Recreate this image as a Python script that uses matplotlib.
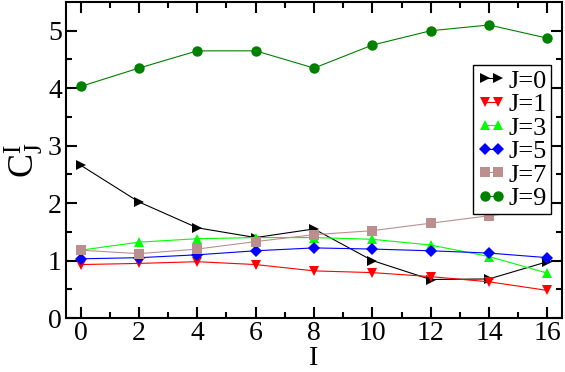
import matplotlib
matplotlib.use('Agg')
import matplotlib.pyplot as plt

plt.rcParams['font.family'] = ['Liberation Serif', 'DejaVu Serif']
plt.rcParams['mathtext.fontset'] = 'custom'
plt.rcParams['mathtext.rm'] = 'Liberation Serif'
plt.rcParams['mathtext.it'] = 'Liberation Serif'

I = [0, 2, 4, 6, 8, 10, 12, 14, 16]
c_j0 = [2.66, 2.02, 1.57, 1.40, 1.55, 1.00, 0.67, 0.68, 0.98]
c_j1 = [0.93, 0.95, 0.98, 0.93, 0.82, 0.79, 0.72, 0.63, 0.48]
c_j3 = [1.18, 1.32, 1.38, 1.40, 1.40, 1.37, 1.27, 1.07, 0.78]
c_j5 = [1.03, 1.05, 1.10, 1.17, 1.22, 1.20, 1.17, 1.13, 1.05]
c_j7 = [1.18, 1.12, 1.20, 1.33, 1.45, 1.52, 1.65, 1.78, 1.90]
c_j9 = [4.03, 4.35, 4.65, 4.65, 4.35, 4.75, 5.00, 5.10, 4.87]

series = [
    ('J=0', c_j0, 'black', '>'),
    ('J=1', c_j1, 'red', 'v'),
    ('J=3', c_j3, '#00ff00', '^'),
    ('J=5', c_j5, 'blue', 'D'),
    ('J=7', c_j7, '#bc8f8f', 's'),
    ('J=9', c_j9, 'green', 'o'),
]

fig = plt.figure(figsize=(5.65, 3.72), dpi=100)
ax = fig.add_axes([66/565, 1 - 318/372, (562-66)/565, (318-2)/372])

for label, vals, col, mk in series:
    ms = 6.5 if mk == 'D' else 7.5
    ax.plot(I, vals, color=col, marker=mk, markersize=ms, linewidth=0.8,
            markeredgewidth=0, label=label)

ax.set_xlim(-0.5, 16.5)
ax.set_ylim(0, 5.5)
ax.set_xticks(range(0, 17, 2))
ax.set_xticks(range(1, 17, 2), minor=True)
ax.set_yticks(range(0, 6))
ax.set_yticks([0.5, 1.5, 2.5, 3.5, 4.5], minor=True)
ax.tick_params(which='both', direction='in', top=True, right=True,
               labelsize=20, width=1.5)
ax.tick_params(which='major', length=8, pad=3)
ax.tick_params(axis='x', which='major', pad=2)
ax.tick_params(which='minor', length=4)
for sp in ax.spines.values():
    sp.set_linewidth(1.5)

ax.set_xlabel('I', fontsize=20, va='bottom')
ax.xaxis.set_label_coords(0.5, -0.168)
ax.set_ylabel(r'$\mathregular{C^{I}_{J}}$', fontsize=26, labelpad=2)

leg = ax.legend(loc='upper right', bbox_to_anchor=(0.978, 0.80), numpoints=2,
                fontsize=19, frameon=True, fancybox=False, handlelength=1.1,
                handletextpad=0.1, labelspacing=0.0, borderpad=0.15,
                borderaxespad=0.0)
leg.get_frame().set_edgecolor('black')
leg.get_frame().set_linewidth(1.0)
leg.get_frame().set_alpha(1)

fig.savefig('out.png', dpi=100)
